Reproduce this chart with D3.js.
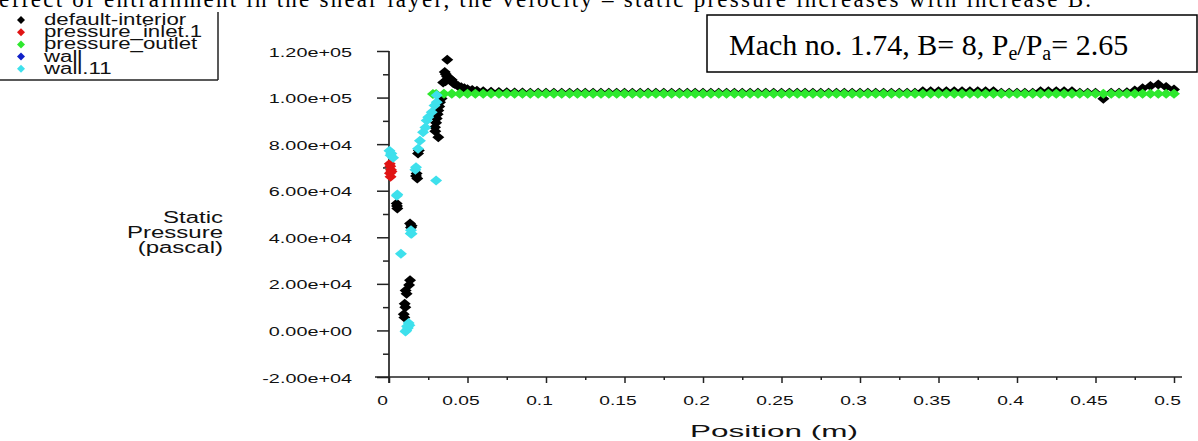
<!DOCTYPE html>
<html>
<head>
<meta charset="utf-8">
<title>Static Pressure vs Position</title>
<script src="https://d3js.org/d3.v7.min.js"></script>
<style>
  body { margin: 0; background: #fff; }
  svg { display: block; }
</style>
</head>
<body>
<svg id="chart" width="1198" height="441"></svg>
<script>
// ---- data ----
var seriesNames = ["default-interior", "pressure_inlet.1", "pressure_outlet", "wall", "wall.11"];
var seriesColors = ["#000000", "#e01414", "#2ee82e", "#1020c8", "#3ee0ec"];

var yTicks = [-20000, 0, 20000, 40000, 60000, 80000, 100000, 120000];
var yTickLabels = ["-2.00e+04", "0.00e+00", "2.00e+04", "4.00e+04", "6.00e+04", "8.00e+04", "1.00e+05", "1.20e+05"];
var xTicks = [0, 0.05, 0.1, 0.15, 0.2, 0.25, 0.3, 0.35, 0.4, 0.45, 0.5];
var xTickLabels = ["0", "0.05", "0.1", "0.15", "0.2", "0.25", "0.3", "0.35", "0.4", "0.45", "0.5"];

// default-interior (black)
var interiorX = [0.0049,0.0051,0.0053,
  0.0134,0.0128,0.0106,0.0112,0.0100,0.0104,0.0094,0.0098,
  0.0134,0.0144,0.0140,
  0.0176,0.0172,0.0180,
  0.0190,0.0185,
  0.0314,0.0295,0.0293,0.0300,0.0304,0.0310,0.0314,0.0320,0.0325,0.0335,
  0.0371,0.0355,0.0362,0.0370,0.0380,0.0390,0.0400,0.0360,0.0345,0.0410,
  0.0420,0.0440,0.0460,0.0480,0.0500,0.0530,0.0560,0.0600,0.0650,0.0700,
  0.0750,0.0800,0.0850,
  0.090,0.095,0.100,0.105,0.110,0.115,0.120,0.125,0.130,0.135,
  0.140,0.145,0.150,0.155,0.160,0.165,0.170,0.175,0.180,0.185,
  0.190,0.195,0.200,0.205,0.210,0.215,0.220,0.225,0.230,0.235,
  0.240,0.245,0.250,0.255,0.260,0.265,0.270,0.275,0.280,0.285,
  0.290,0.295,0.300,0.305,0.310,0.315,0.320,0.325,0.330,0.335,
  0.340,0.345,0.350,0.355,0.360,0.365,0.370,0.375,0.380,0.385,
  0.390,0.395,0.400,0.405,0.410,
  0.415,0.420,0.425,0.430,0.435,
  0.440,0.445,0.450,0.455,0.460,0.465,0.470,
  0.475,0.480,0.485,0.490,0.495,0.500];
var interiorP = [54500,53400,52400,
  21500,19500,17200,15800,11500,10000,7000,5500,
  45900,45000,44200,
  67400,66300,65200,
  77250,76000,
  83000,85500,87300,89200,91000,92800,94400,96200,98000,99600,
  116200,111000,110000,109000,108500,108000,107500,107000,106500,106200,
  105800,105000,104400,104000,103600,103200,102900,102700,102500,102400,
  102300,102200,102200,
  102100,102100,102100,102100,102100,102100,102100,102100,102100,102100,
  102100,102100,102100,102100,102100,102100,102100,102100,102100,102100,
  102100,102100,102100,102100,102100,102100,102100,102100,102100,102100,
  102100,102100,102100,102100,102100,102100,102100,102100,102100,102100,
  102100,102100,102100,102100,102100,102100,102100,102100,102100,102100,
  102700,102700,102700,102700,102700,102700,102700,102700,102700,102700,
  102100,102100,102100,102100,102100,
  102700,102700,102700,102700,102700,
  102100,102100,102100,99500,102100,102100,102300,
  103000,104000,105000,105600,104500,103500];

// pressure_inlet.1 (red)
var inletX = [0.0005, 0.0008, 0.0012, 0.0006, 0.0010, 0.0016];
var inletP = [71600, 70500, 69000, 67500, 66000, 68200];

// pressure_outlet (green)
var outletX = [0.028,0.030,0.035,0.040,0.045,0.050,0.055,0.060,0.065,0.070,
  0.075,0.080,0.085,0.090,0.095,0.100,0.105,0.110,0.115,0.120,
  0.125,0.130,0.135,0.140,0.145,0.150,0.155,0.160,0.165,0.170,
  0.175,0.180,0.185,0.190,0.195,0.200,0.205,0.210,0.215,0.220,
  0.225,0.230,0.235,0.240,0.245,0.250,0.255,0.260,0.265,0.270,
  0.275,0.280,0.285,0.290,0.295,0.300,0.305,0.310,0.315,0.320,
  0.325,0.330,0.335,0.340,0.345,0.350,0.355,0.360,0.365,0.370,
  0.375,0.380,0.385,0.390,0.395,0.400,0.405,0.410,0.415,0.420,
  0.425,0.430,0.435,0.440,0.445,0.450,0.455,0.460,0.465,0.470,
  0.475,0.480,0.485,0.490,0.495,0.500];
var outletP = [101500,101500,101600,101600,101600,101600,101600,101600,101600,101600,
  101600,101600,101600,101600,101600,101600,101600,101600,101600,101600,
  101600,101600,101600,101600,101600,101600,101600,101600,101600,101600,
  101600,101600,101600,101600,101600,101600,101600,101600,101600,101600,
  101600,101600,101600,101600,101600,101600,101600,101600,101600,101600,
  101600,101600,101600,101600,101600,101600,101600,101600,101600,101600,
  101600,101600,101600,101600,101600,101600,101600,101600,101600,101600,
  101600,101600,101600,101600,101600,101600,101600,101600,101600,101600,
  101600,101600,101600,101600,101600,101600,101600,101600,101600,101600,
  101600,101600,101600,101600,101600,101600];

// wall (blue) - hidden under the other series in the picture
var wallX = [];
var wallP = [];

// wall.11 (cyan)
var wall11X = [0.0003,0.0010,0.0015,0.0026, 0.0050,0.0053, 0.0076,
  0.0138,0.0140,0.0144, 0.0168,0.0172, 0.0300,
  0.0185,0.0197,0.0217,0.0232,0.0240,0.0250,0.0272,0.0290,0.0304,0.0304,
  0.0110,0.0120,0.0130,0.0105,0.0125,0.0115];
var wall11P = [77200,75200,76000,74200, 57800,58400, 32900,
  41600,43000,41500, 69000,70100, 64400,
  78000,81500,85100,87100,90100,91500,93700,96600,98000,101000,
  0,1000,2200,-500,3200,1800];

// ---- drawing ----
var svg = d3.select("#chart");
var sans = "'Liberation Sans', Arial, sans-serif";
var serif = "'Liberation Serif', 'Times New Roman', serif";

var x = d3.scaleLinear().domain([0, 0.5]).range([389, 1174]);
var y = d3.scaleLinear().domain([-20000, 120000]).range([377, 51]);

// stretch text horizontally like the wide plotting font
function stretch(sel, k) {
  sel.each(function () {
    var w = this.getComputedTextLength();
    d3.select(this).attr("textLength", w * k).attr("lengthAdjust", "spacingAndGlyphs");
  });
}

// cut-off document sentence at the very top
svg.append("text")
  .attr("x", -1).attr("y", 7)
  .attr("font-family", serif).attr("font-size", 23)
  .attr("textLength", 1092).attr("lengthAdjust", "spacing")
  .text("effect of entrainment in the shear layer, the velocity \u2013 static pressure increases with increase B.");

// axes
var gy = svg.append("g").attr("transform", "translate(" + x(0) + ",0)");
gy.call(d3.axisLeft(y).tickValues(d3.range(-20000, 120001, 10000).filter(function (v) { return v % 20000 !== 0; }))
  .tickSize(6).tickFormat(""));
gy.select(".domain").remove();
var gy2 = svg.append("g").attr("transform", "translate(" + x(0) + ",0)");
gy2.call(d3.axisLeft(y).tickValues(yTicks).tickSize(12).tickPadding(25)
  .tickFormat(function (d, i) { return yTickLabels[i]; }));
gy2.select(".domain").remove();
gy2.selectAll("text").attr("font-family", sans).attr("font-size", 12).attr("fill", "#111").attr("dy", "0.42em");
stretch(gy2.selectAll("text"), 1.65);

var gx = svg.append("g").attr("transform", "translate(0," + y(-20000) + ")");
gx.call(d3.axisBottom(x).tickValues(d3.range(0.025, 0.5, 0.05)).tickSize(3).tickFormat(""));
gx.select(".domain").remove();
var gx2 = svg.append("g").attr("transform", "translate(0," + y(-20000) + ")");
gx2.call(d3.axisBottom(x).tickValues(xTicks).tickSize(6)
  .tickFormat(function (d, i) { return xTickLabels[i]; }));
gx2.select(".domain").remove();
gx2.selectAll("text").attr("font-family", sans).attr("font-size", 12).attr("fill", "#111")
  .attr("y", 28).attr("dy", 0).attr("x", -7);
stretch(gx2.selectAll("text"), 1.6);

svg.selectAll(".tick line").attr("stroke", "#222").attr("stroke-width", 1.5);

svg.append("line").attr("x1", x(0)).attr("x2", x(0)).attr("y1", y(120000)).attr("y2", y(-20000) + 6)
  .attr("stroke", "#222").attr("stroke-width", 1.7);
svg.append("line").attr("x1", 375).attr("x2", 1182).attr("y1", y(-20000)).attr("y2", y(-20000))
  .attr("stroke", "#222").attr("stroke-width", 1.7);

// axis titles
var xt = svg.append("text").attr("x", 774).attr("y", 437).attr("text-anchor", "middle")
  .attr("font-family", sans).attr("font-size", 17).attr("fill", "#111").text("Position (m)");
stretch(xt, 1.85);

var yTitle = ["Static", "Pressure", "(pascal)"];
var yt = svg.selectAll(".ytitle").data(yTitle).enter().append("text")
  .attr("class", "ytitle")
  .attr("x", 223).attr("y", function (d, i) { return 223 + i * 15; })
  .attr("text-anchor", "end")
  .attr("font-family", sans).attr("font-size", 16).attr("fill", "#111")
  .text(function (d) { return d; });
stretch(yt, 1.5);

// markers: diamonds, a little wider than tall so that dense runs merge into a band
function diamond(rx, ry) { return "M0," + (-ry) + "L" + rx + ",0L0," + ry + "L" + (-rx) + ",0Z"; }
var series = [
  { xs: interiorX, ps: interiorP, c: seriesColors[0] },
  { xs: inletX, ps: inletP, c: seriesColors[1] },
  { xs: outletX, ps: outletP, c: seriesColors[2] },
  { xs: wallX, ps: wallP, c: seriesColors[3] },
  { xs: wall11X, ps: wall11P, c: seriesColors[4] }
];
series.forEach(function (s) {
  svg.append("g").selectAll("path").data(s.xs).enter().append("path")
    .attr("d", diamond(6, 5))
    .attr("transform", function (d, i) { return "translate(" + x(d) + "," + y(s.ps[i]) + ")"; })
    .attr("fill", s.c);
});

// legend (top-left, partly cut)
svg.append("defs").append("clipPath").attr("id", "legclip")
  .append("rect").attr("x", 0).attr("y", 0).attr("width", 217).attr("height", 80);
var leg = svg.append("g").attr("clip-path", "url(#legclip)");
seriesNames.forEach(function (n, i) {
  var yy = 25 + i * 12.2;
  leg.append("path").attr("d", diamond(4, 4)).attr("transform", "translate(21," + (yy - 5) + ")")
    .attr("fill", seriesColors[i]);
  var t = leg.append("text").attr("x", 44).attr("y", yy)
    .attr("font-family", sans).attr("font-size", 16).attr("fill", "#111").text(n);
  stretch(t, 1.39);
});
svg.append("line").attr("x1", 218).attr("x2", 218).attr("y1", 12).attr("y2", 80)
  .attr("stroke", "#222").attr("stroke-width", 1.5);
svg.append("line").attr("x1", 0).attr("x2", 218).attr("y1", 80).attr("y2", 80)
  .attr("stroke", "#222").attr("stroke-width", 1.5);

// annotation box
svg.append("rect").attr("x", 707).attr("y", 15).attr("width", 490).attr("height", 57)
  .attr("fill", "#fff").attr("stroke", "#000").attr("stroke-width", 1.5);
var note = svg.append("text").attr("x", 729).attr("y", 55)
  .attr("font-family", serif).attr("font-size", 30).attr("fill", "#000");
note.append("tspan").text("Mach no. 1.74, B= 8, P");
note.append("tspan").attr("font-size", 20).attr("dy", 5).text("e");
note.append("tspan").attr("dy", -5).text("/P");
note.append("tspan").attr("font-size", 20).attr("dy", 5).text("a");
note.append("tspan").attr("dy", -5).text("= 2.65");
</script>
</body>
</html>
